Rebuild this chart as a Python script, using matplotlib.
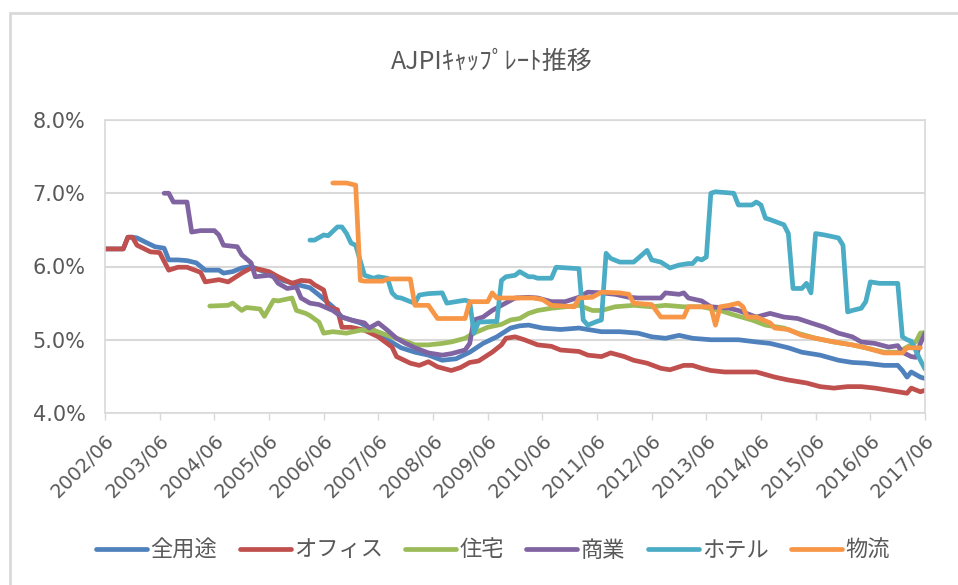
import pandas as pd
import matplotlib
matplotlib.use("Agg")
import matplotlib.pyplot as plt
from matplotlib.patches import Rectangle
from matplotlib.ticker import FuncFormatter

plt.rcParams['font.family'] = ['Noto Sans CJK JP', 'DejaVu Sans']

title = 'AJPIｷｬｯﾌﾟﾚｰﾄ推移'
names = ['全用途', 'オフィス', '住宅', '商業', 'ホテル', '物流']
colors = ['#4F81BD', '#C0504D', '#9BBB59', '#8064A2', '#4BACC6', '#F79646']

# values (%), month of each reading
all_dates = ['2002-06', '2002-10', '2002-11', '2002-12', '2003-01', '2003-03', '2003-05', '2003-07',
             '2003-08', '2003-10', '2003-12', '2004-02', '2004-04', '2004-07', '2004-08', '2004-10',
             '2004-12', '2005-02', '2005-04', '2005-06', '2005-09', '2006-01', '2006-03', '2006-05',
             '2006-08', '2006-10', '2007-02', '2007-05', '2007-08', '2007-11', '2008-02', '2008-05',
             '2008-08', '2008-11', '2009-02', '2009-05', '2009-08', '2009-11', '2010-01', '2010-03',
             '2010-06', '2010-10', '2011-02', '2011-04', '2011-07', '2011-11', '2012-03', '2012-06',
             '2012-09', '2012-12', '2013-03', '2013-07', '2014-01', '2014-05', '2014-08', '2014-12',
             '2015-03', '2015-07', '2015-11', '2016-02', '2016-05', '2016-09', '2016-12', '2017-01',
             '2017-02', '2017-03', '2017-05', '2017-06']
all_vals = [6.24, 6.24, 6.40, 6.40, 6.39, 6.33, 6.27, 6.25,
            6.09, 6.09, 6.08, 6.05, 5.95, 5.95, 5.91, 5.93,
            5.98, 6.00, 5.95, 5.91, 5.81, 5.74, 5.71, 5.61,
            5.45, 5.31, 5.23, 5.13, 5.00, 4.89, 4.83, 4.79,
            4.72, 4.74, 4.83, 4.95, 5.04, 5.16, 5.19, 5.20,
            5.16, 5.14, 5.16, 5.14, 5.11, 5.11, 5.09, 5.04,
            5.02, 5.06, 5.02, 5.00, 5.00, 4.97, 4.95, 4.89,
            4.83, 4.79, 4.72, 4.69, 4.68, 4.65, 4.65, 4.58,
            4.49, 4.56, 4.49, 4.47]

office_dates = ['2002-06', '2002-10', '2002-11', '2002-12', '2003-01', '2003-04', '2003-06', '2003-08',
                '2003-10', '2003-12', '2004-03', '2004-04', '2004-07', '2004-09', '2004-12', '2005-02',
                '2005-04', '2005-06', '2005-08', '2005-11', '2006-01', '2006-03', '2006-04', '2006-06',
                '2006-07', '2006-09', '2006-10', '2006-12', '2007-03', '2007-06', '2007-09', '2007-10',
                '2008-01', '2008-03', '2008-05', '2008-07', '2008-10', '2008-12', '2009-02', '2009-04',
                '2009-07', '2009-09', '2009-10', '2009-12', '2010-02', '2010-05', '2010-08', '2010-10',
                '2011-02', '2011-04', '2011-07', '2011-09', '2011-12', '2012-02', '2012-05', '2012-08',
                '2012-10', '2013-01', '2013-03', '2013-05', '2013-07', '2013-10', '2014-01', '2014-05',
                '2014-09', '2014-12', '2015-04', '2015-07', '2015-10', '2016-01', '2016-04', '2016-07',
                '2016-10', '2016-12', '2017-02', '2017-03', '2017-05', '2017-06']
office_vals = [6.24, 6.24, 6.40, 6.40, 6.29, 6.20, 6.19, 5.95,
               5.99, 5.99, 5.92, 5.79, 5.82, 5.79, 5.91, 5.98,
               5.96, 5.93, 5.86, 5.77, 5.81, 5.80, 5.75, 5.68,
               5.45, 5.41, 5.17, 5.17, 5.13, 5.04, 4.90, 4.77,
               4.68, 4.65, 4.70, 4.63, 4.58, 4.62, 4.69, 4.71,
               4.83, 4.93, 5.02, 5.04, 5.00, 4.93, 4.91, 4.86,
               4.84, 4.79, 4.77, 4.82, 4.77, 4.72, 4.68, 4.61,
               4.59, 4.65, 4.65, 4.61, 4.58, 4.56, 4.56, 4.56,
               4.49, 4.45, 4.41, 4.36, 4.34, 4.36, 4.36, 4.34,
               4.31, 4.29, 4.27, 4.34, 4.29, 4.31]

resi_dates = ['2004-05', '2004-09', '2004-10', '2004-12', '2005-01', '2005-04', '2005-05', '2005-07',
              '2005-08', '2005-11', '2005-12', '2006-02', '2006-03', '2006-05', '2006-06', '2006-08',
              '2006-11', '2007-02', '2007-05', '2007-08', '2007-11', '2008-02', '2008-05', '2008-08',
              '2008-10', '2009-01', '2009-03', '2009-06', '2009-09', '2009-11', '2010-01', '2010-03',
              '2010-05', '2010-08', '2010-11', '2011-02', '2011-05', '2011-07', '2011-10', '2012-02',
              '2012-06', '2012-09', '2013-01', '2013-05', '2013-09', '2013-12', '2014-04', '2014-07',
              '2014-11', '2015-02', '2015-06', '2015-10', '2016-02', '2016-05', '2016-09', '2016-12',
              '2017-02', '2017-04', '2017-05', '2017-06']
resi_vals = [5.46, 5.47, 5.50, 5.40, 5.44, 5.42, 5.32, 5.54,
             5.53, 5.57, 5.40, 5.36, 5.33, 5.24, 5.09, 5.11,
             5.09, 5.13, 5.13, 5.06, 5.00, 4.93, 4.93, 4.95,
             4.97, 5.02, 5.09, 5.17, 5.21, 5.27, 5.29, 5.36,
             5.40, 5.43, 5.45, 5.47, 5.40, 5.40, 5.45, 5.47,
             5.45, 5.47, 5.45, 5.45, 5.40, 5.34, 5.27, 5.20,
             5.16, 5.09, 5.02, 4.97, 4.93, 4.89, 4.83, 4.83,
             4.90, 4.97, 5.09, 5.10]

retail_dates = ['2003-07', '2003-08', '2003-09', '2003-12', '2004-01', '2004-03', '2004-06', '2004-07',
                '2004-08', '2004-11', '2004-12', '2005-02', '2005-03', '2005-06', '2005-07', '2005-08',
                '2005-10', '2005-12', '2006-01', '2006-03', '2006-05', '2006-08', '2006-10', '2006-12',
                '2007-03', '2007-04', '2007-06', '2007-08', '2007-10', '2007-12', '2008-02', '2008-05',
                '2008-08', '2008-10', '2009-01', '2009-02', '2009-03', '2009-05', '2009-07', '2009-09',
                '2009-12', '2010-03', '2010-05', '2010-08', '2010-11', '2011-02', '2011-04', '2011-07',
                '2011-10', '2012-01', '2012-03', '2012-08', '2012-09', '2012-12', '2013-01', '2013-02',
                '2013-05', '2013-07', '2013-11', '2014-01', '2014-05', '2014-08', '2014-11', '2015-02',
                '2015-05', '2015-08', '2015-11', '2016-02', '2016-04', '2016-07', '2016-10', '2016-12',
                '2017-01', '2017-03', '2017-04', '2017-05', '2017-06']
retail_vals = [7.00, 7.00, 6.88, 6.88, 6.47, 6.49, 6.49, 6.43,
               6.29, 6.27, 6.16, 6.05, 5.86, 5.88, 5.86, 5.77,
               5.70, 5.72, 5.57, 5.50, 5.48, 5.40, 5.31, 5.27,
               5.23, 5.16, 5.23, 5.13, 5.02, 4.95, 4.89, 4.82,
               4.79, 4.81, 4.86, 4.95, 5.27, 5.31, 5.40, 5.47,
               5.57, 5.58, 5.57, 5.52, 5.52, 5.58, 5.65, 5.64,
               5.62, 5.58, 5.57, 5.57, 5.64, 5.62, 5.64, 5.57,
               5.53, 5.45, 5.43, 5.40, 5.31, 5.36, 5.31, 5.29,
               5.23, 5.17, 5.09, 5.04, 4.97, 4.95, 4.90, 4.92,
               4.83, 4.77, 4.76, 4.95, 5.09]

hotel_dates = ['2006-03', '2006-04', '2006-06', '2006-07', '2006-09', '2006-10', '2006-11', '2006-12',
               '2007-01', '2007-03', '2007-05', '2007-06', '2007-08', '2007-09', '2007-10', '2007-11',
               '2008-01', '2008-02', '2008-03', '2008-05', '2008-08', '2008-09', '2008-11', '2009-01',
               '2009-02', '2009-03', '2009-04', '2009-07', '2009-08', '2009-09', '2009-10', '2009-12',
               '2010-01', '2010-03', '2010-04', '2010-05', '2010-08', '2010-09', '2011-02', '2011-03',
               '2011-04', '2011-06', '2011-07', '2011-08', '2011-09', '2011-11', '2012-02', '2012-03',
               '2012-05', '2012-06', '2012-08', '2012-10', '2012-12', '2013-02', '2013-03', '2013-04',
               '2013-05', '2013-06', '2013-07', '2013-08', '2013-12', '2014-01', '2014-04', '2014-05',
               '2014-06', '2014-07', '2014-08', '2014-11', '2014-12', '2015-01', '2015-03', '2015-04',
               '2015-05', '2015-06', '2015-08', '2015-11', '2015-12', '2016-01', '2016-02', '2016-04',
               '2016-05', '2016-06', '2016-08', '2016-12', '2017-01', '2017-02', '2017-03', '2017-04',
               '2017-05', '2017-06']
hotel_vals = [6.36, 6.36, 6.43, 6.42, 6.54, 6.54, 6.45, 6.32,
              6.29, 5.88, 5.84, 5.86, 5.84, 5.64, 5.58, 5.57,
              5.52, 5.50, 5.61, 5.63, 5.64, 5.50, 5.52, 5.54,
              5.52, 5.09, 5.24, 5.25, 5.25, 5.81, 5.86, 5.88,
              5.93, 5.86, 5.86, 5.84, 5.84, 5.99, 5.97, 5.27,
              5.20, 5.25, 5.27, 6.18, 6.11, 6.06, 6.06, 6.11,
              6.22, 6.09, 6.06, 5.98, 6.02, 6.04, 6.04, 6.11,
              6.09, 6.13, 7.00, 7.02, 7.00, 6.84, 6.84, 6.88,
              6.84, 6.66, 6.64, 6.57, 6.45, 5.70, 5.70, 5.77,
              5.64, 6.45, 6.43, 6.39, 6.29, 5.38, 5.40, 5.43,
              5.52, 5.79, 5.77, 5.77, 5.04, 5.00, 4.98, 4.85,
              4.72, 4.60]

logi_dates = ['2006-08', '2006-11', '2007-01', '2007-02', '2007-03', '2007-07', '2007-08', '2008-01',
              '2008-02', '2008-05', '2008-07', '2009-01', '2009-02', '2009-06', '2009-07', '2009-08',
              '2010-04', '2010-06', '2010-08', '2011-01', '2011-02', '2011-05', '2011-07', '2011-11',
              '2012-01', '2012-02', '2012-06', '2012-08', '2013-01', '2013-02', '2013-07', '2013-08',
              '2013-09', '2013-11', '2014-01', '2014-02', '2014-03', '2014-05', '2014-08', '2014-09',
              '2014-12', '2015-03', '2015-06', '2015-10', '2016-02', '2016-05', '2016-09', '2017-01',
              '2017-02', '2017-05']
logi_vals = [7.14, 7.14, 7.11, 5.81, 5.80, 5.80, 5.83, 5.83,
             5.47, 5.47, 5.29, 5.29, 5.52, 5.52, 5.64, 5.57,
             5.57, 5.55, 5.47, 5.45, 5.57, 5.58, 5.65, 5.64,
             5.62, 5.50, 5.48, 5.31, 5.31, 5.45, 5.45, 5.20,
             5.45, 5.47, 5.50, 5.45, 5.31, 5.31, 5.23, 5.16,
             5.14, 5.06, 5.02, 4.97, 4.93, 4.89, 4.82, 4.82,
             4.89, 4.89]

series = [(all_dates, all_vals), (office_dates, office_vals), (resi_dates, resi_vals),
          (retail_dates, retail_vals), (hotel_dates, hotel_vals), (logi_dates, logi_vals)]

tick_labels = ['2002/06', '2003/06', '2004/06', '2005/06', '2006/06', '2007/06', '2008/06', '2009/06',
               '2010/06', '2011/06', '2012/06', '2013/06', '2014/06', '2015/06', '2016/06', '2017/06']

W, H = 958, 585
fig = plt.figure(figsize=(W / 100, H / 100), dpi=100)
ax = fig.add_axes([105 / W, 1 - 413 / H, (925 - 105) / W, (413 - 120) / H])

for (d, v), name, c in zip(series, names, colors):
    ax.plot(pd.to_datetime(d, format='%Y-%m'), v, color=c, lw=3.4, label=name,
            solid_joinstyle='round', solid_capstyle='round')

ticks = pd.to_datetime(tick_labels, format='%Y/%m')
ax.set_xlim(ticks[0], ticks[-1])
ax.set_xticks(ticks)
ax.set_xticklabels(tick_labels, rotation=45, ha='right', va='top', rotation_mode='anchor',
                   fontsize=14, color='#595959', family='DejaVu Sans')
ax.set_ylim(4.0, 8.0)
ax.set_yticks([4, 5, 6, 7, 8])
ax.yaxis.set_major_formatter(FuncFormatter(lambda v, p: f'{v:.1f}%'))
for lab in ax.get_yticklabels():
    lab.set_family('DejaVu Sans')
ax.tick_params(axis='y', length=0, pad=14, labelsize=15, labelcolor='#595959')
ax.tick_params(axis='x', length=5, width=1, color='#d9d9d9', pad=8)
ax.grid(axis='y', color='#d9d9d9', lw=1.5)
ax.set_axisbelow(True)
for s in ax.spines.values():
    s.set_color('#d9d9d9')
    s.set_linewidth(1.2)

fig.text(492 / W, 1 - 62 / H, title, ha='center', va='center', fontsize=18, color='#595959')

fig.legend(loc='center', bbox_to_anchor=(493 / W, 1 - 550 / H), ncol=6, frameon=False,
           fontsize=16, handlelength=2.3, handletextpad=0.15, columnspacing=1.0,
           labelcolor='#595959')

fig.patches.append(Rectangle((10 / W, -0.1), 1.0, 1 - 13 / H + 0.1, transform=fig.transFigure,
                             fill=False, edgecolor='#d9d9d9', lw=2))

fig.savefig('out.png', dpi=100)
